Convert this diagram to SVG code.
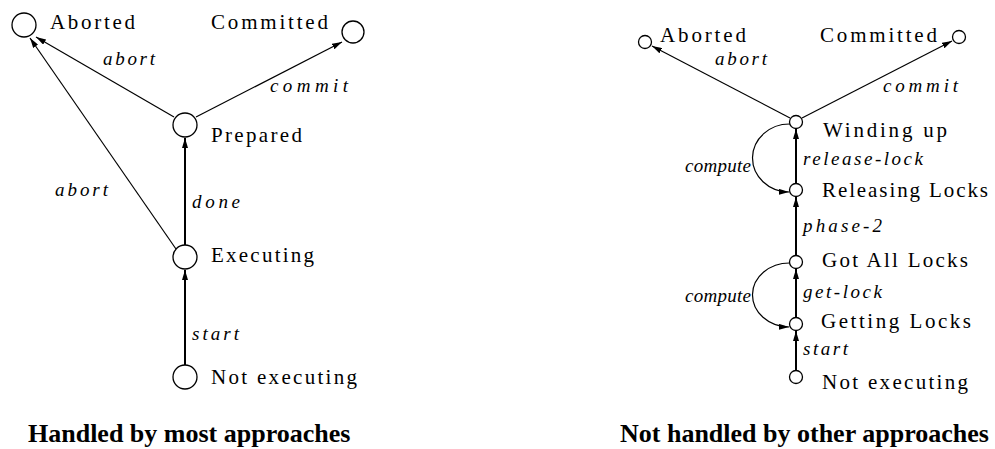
<svg xmlns="http://www.w3.org/2000/svg" width="995" height="449" viewBox="0 0 995 449">
<style>
.st{fill:#fff;stroke:#000;stroke-width:1.3}
.lb{font-family:"Liberation Serif",serif;font-size:21px;fill:#000}
.el{font-family:"Liberation Serif",serif;font-size:19px;font-style:italic;fill:#000}
.cap{font-family:"Liberation Serif",serif;font-size:26px;font-weight:bold;fill:#000}
.thin{fill:none;stroke:#000;stroke-width:1.2;marker-end:url(#ah)}
.thick{fill:none;stroke:#000;stroke-width:2;marker-end:url(#ah)}
</style>
<defs>
<marker id="ah" viewBox="0 0 10 6" refX="10" refY="3" markerWidth="10" markerHeight="6" orient="auto" markerUnits="userSpaceOnUse"><path d="M0,0 L10,3 L0,6 z" fill="#000"/></marker>
</defs>
<rect width="995" height="449" fill="#fff"/>
<g id="connectors">
<line class="thin" x1="174" y1="117" x2="36" y2="37"/>
<line class="thin" x1="176" y1="249" x2="30" y2="38"/>
<line class="thin" x1="196" y1="117" x2="342" y2="42"/>
<line class="thick" x1="185" y1="245" x2="185" y2="138"/>
<line class="thick" x1="185" y1="365" x2="185" y2="270"/>
<line class="thin" x1="790" y1="118" x2="652" y2="46"/>
<line class="thin" x1="802" y1="118" x2="952" y2="41"/>
<line class="thick" x1="796" y1="183" x2="796" y2="129"/>
<line class="thick" x1="796" y1="255" x2="796" y2="197"/>
<line class="thick" x1="796" y1="317" x2="796" y2="269"/>
<line class="thick" x1="796" y1="370" x2="796" y2="331"/>
<path class="thin" d="M790 124 A37 34 0 0 0 789 192"/>
<path class="thin" d="M790 263 A37 32 0 0 0 789 327"/>
<text class="el" x="103" y="65" textLength="52">abort</text>
<text class="el" x="270" y="92" textLength="78">commit</text>
<text class="el" x="55" y="196" textLength="53">abort</text>
<text class="el" x="192" y="208" textLength="48">done</text>
<text class="el" x="192" y="340" textLength="47">start</text>
<text class="el" x="715" y="65" textLength="52">abort</text>
<text class="el" x="883" y="92" textLength="75">commit</text>
<text class="el" x="803" y="165" textLength="120">release-lock</text>
<text class="el" x="685" y="172" textLength="66">compute</text>
<text class="el" x="803" y="232" textLength="79">phase-2</text>
<text class="el" x="803" y="298" textLength="79">get-lock</text>
<text class="el" x="685" y="302" textLength="66">compute</text>
<text class="el" x="803" y="355" textLength="45">start</text>
</g>
<g id="l-aborted"><circle class="st" cx="24" cy="25" r="12"/><text class="lb" x="50" y="29" textLength="85">Aborted</text></g>
<g id="l-committed"><circle class="st" cx="353" cy="32" r="11"/><text class="lb" x="211" y="29" textLength="117">Committed</text></g>
<g id="l-prepared"><circle class="st" cx="185" cy="125" r="12"/><text class="lb" x="211" y="142" textLength="91">Prepared</text></g>
<g id="l-executing"><circle class="st" cx="185" cy="257" r="12"/><text class="lb" x="211" y="262" textLength="103">Executing</text></g>
<g id="l-notexec"><circle class="st" cx="185" cy="377" r="12"/><text class="lb" x="211" y="384" textLength="146">Not executing</text></g>
<g id="r-aborted"><circle class="st" cx="645" cy="42" r="6.5"/><text class="lb" x="660" y="42" textLength="86">Aborted</text></g>
<g id="r-committed"><circle class="st" cx="959" cy="37" r="6.5"/><text class="lb" x="820" y="42" textLength="117">Committed</text></g>
<g id="r-winding"><circle class="st" cx="796" cy="122" r="6.5"/><text class="lb" x="823" y="137" textLength="124">Winding up</text></g>
<g id="r-releasing"><circle class="st" cx="796" cy="190" r="6.5"/><text class="lb" x="822" y="197" textLength="166">Releasing Locks</text></g>
<g id="r-gotall"><circle class="st" cx="796" cy="262" r="6.5"/><text class="lb" x="822" y="267" textLength="146">Got All Locks</text></g>
<g id="r-getting"><circle class="st" cx="796" cy="324" r="6.5"/><text class="lb" x="821" y="328" textLength="150">Getting Locks</text></g>
<g id="r-notexec"><circle class="st" cx="796" cy="377" r="6.5"/><text class="lb" x="822" y="389" textLength="146">Not executing</text></g>
<g id="captions">
<text class="cap" x="28" y="442">Handled by most approaches</text>
<text class="cap" x="620" y="442">Not handled by other approaches</text>
</g>
</svg>
